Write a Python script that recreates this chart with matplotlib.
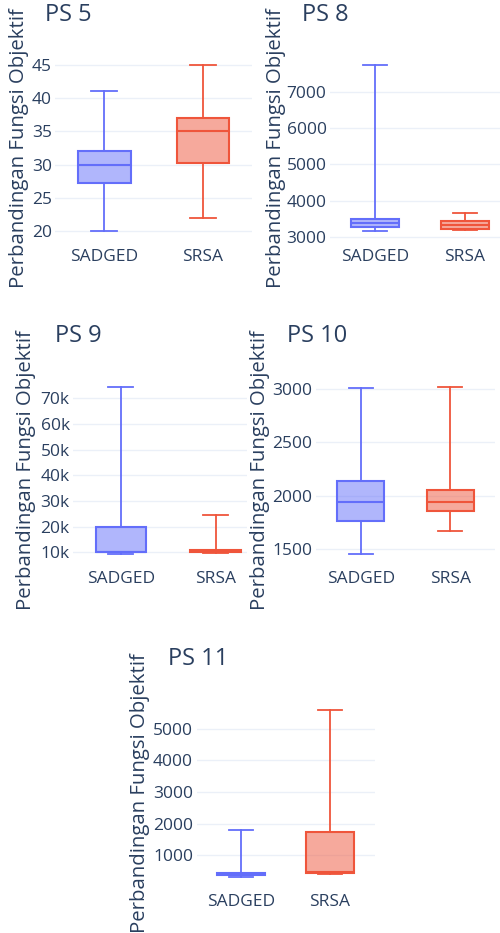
import matplotlib
matplotlib.use("Agg")
import matplotlib.pyplot as plt
from matplotlib.ticker import FuncFormatter
from matplotlib.colors import to_rgba

W, H = 500, 933

categories = ["SADGED", "SRSA"]
colors = ["#636EFA", "#EF553B"]
titles = ["PS 5", "PS 8", "PS 9", "PS 10", "PS 11"]
ylabel = "Perbandingan Fungsi Objektif"

# box statistics per panel: [SADGED, SRSA]
ps5_whislo = [20, 22]
ps5_q1 = [27.2, 30.2]
ps5_med = [30, 35]
ps5_q3 = [32, 37]
ps5_whishi = [41, 45]

ps8_whislo = [3160, 3205]
ps8_q1 = [3279, 3233]
ps8_med = [3389, 3342]
ps8_q3 = [3499, 3433]
ps8_whishi = [7750, 3652]

ps9_whislo = [9500, 9600]
ps9_q1 = [10000, 10000]
ps9_med = [10200, 10500]
ps9_q3 = [19700, 11000]
ps9_whishi = [74500, 24400]

ps10_whislo = [1460, 1675]
ps10_q1 = [1763, 1857]
ps10_med = [1944, 1947]
ps10_q3 = [2143, 2056]
ps10_whishi = [3005, 3022]

ps11_whislo = [315, 390]
ps11_q1 = [380, 422]
ps11_med = [400, 480]
ps11_q3 = [430, 1726]
ps11_whishi = [1789, 5600]

ps5_ticks = [20, 25, 30, 35, 40, 45]
ps8_ticks = [3000, 4000, 5000, 6000, 7000]
ps9_ticks = [10000, 20000, 30000, 40000, 50000, 60000, 70000]
ps10_ticks = [1500, 2000, 2500, 3000]
ps11_ticks = [1000, 2000, 3000, 4000, 5000]

panels = [
    (ps5_whislo, ps5_q1, ps5_med, ps5_q3, ps5_whishi, ps5_ticks),
    (ps8_whislo, ps8_q1, ps8_med, ps8_q3, ps8_whishi, ps8_ticks),
    (ps9_whislo, ps9_q1, ps9_med, ps9_q3, ps9_whishi, ps9_ticks),
    (ps10_whislo, ps10_q1, ps10_med, ps10_q3, ps10_whishi, ps10_ticks),
    (ps11_whislo, ps11_q1, ps11_med, ps11_q3, ps11_whishi, ps11_ticks),
]

# layout in pixels: (left, top, right, bottom)
rects = [
    (55.25, 55.5, 252, 240.4),
    (330, 55.5, 510, 240.4),
    (73.2, 377.4, 247, 562.8),
    (316, 377.4, 495, 562.8),
    (196.5, 700.7, 374.5, 886),
]
xlims = [(-0.5, 1.5), (-0.5, 1.5), (-0.5, 1.33), (-0.5, 1.5), (-0.5, 1.5)]
title_pos = [(45, 15), (301.7, 15), (55, 336.5), (287, 336.5), (168, 659)]
ylab_pos = [(19, 148), (275.5, 148), (26.5, 470), (260.5, 470), (140.5, 793)]

TXT = "#2a3f5f"
plt.rcParams['font.family'] = ['Open Sans', 'DejaVu Sans']

fig = plt.figure(figsize=(W / 100, H / 100), dpi=100)
fig.patch.set_facecolor("white")

def kfmt(v, p):
    return f"{int(round(v / 1000))}k"

for i, (lo, q1, med, q3, hi, ticks) in enumerate(panels):
    l, t, r, b = rects[i]
    ax = fig.add_axes([l / W, 1 - b / H, (r - l) / W, (b - t) / H])
    stats = []
    for j in range(2):
        stats.append(dict(whislo=lo[j], q1=q1[j], med=med[j], q3=q3[j],
                          whishi=hi[j], fliers=[], label=categories[j]))
    res = ax.bxp(stats, positions=[0, 1], widths=0.53, patch_artist=True,
                 showfliers=False, capwidths=0.265)
    for j in range(2):
        c = colors[j]
        res['boxes'][j].set_facecolor(to_rgba(c, 0.5))
        res['boxes'][j].set_edgecolor(c)
        res['boxes'][j].set_linewidth(1.5)
        res['medians'][j].set_color(c)
        res['medians'][j].set_linewidth(1.5)
        for k in (2 * j, 2 * j + 1):
            res['whiskers'][k].set_color(c)
            res['whiskers'][k].set_linewidth(1.3)
            res['caps'][k].set_color(c)
            res['caps'][k].set_linewidth(1.3)
    ax.margins(y=0.0556)
    ax.set_xlim(*xlims[i])
    ax.set_yticks(ticks)
    if i == 2:
        ax.yaxis.set_major_formatter(FuncFormatter(kfmt))
    ax.set_xticks([0, 1])
    ax.set_xticklabels(categories)
    ax.yaxis.grid(True, color="#EBF0F8", linewidth=1)
    ax.set_axisbelow(True)
    for s in ax.spines.values():
        s.set_visible(False)
    ax.tick_params(axis='y', length=0, pad=2.5, labelsize=12.5, labelcolor=TXT)
    ax.tick_params(axis='x', length=0, pad=6, labelsize=12.5, labelcolor=TXT)
    ax.set_facecolor("none")
    tx, ty = title_pos[i]
    fig.text(tx / W, 1 - ty / H, titles[i], fontsize=17, color=TXT,
             ha='left', va='center')
    yx, yy = ylab_pos[i]
    fig.text(yx / W, 1 - yy / H, ylabel, fontsize=14.7, color=TXT,
             rotation=90, ha='center', va='center')

fig.savefig("out.png", dpi=100, facecolor="white")
